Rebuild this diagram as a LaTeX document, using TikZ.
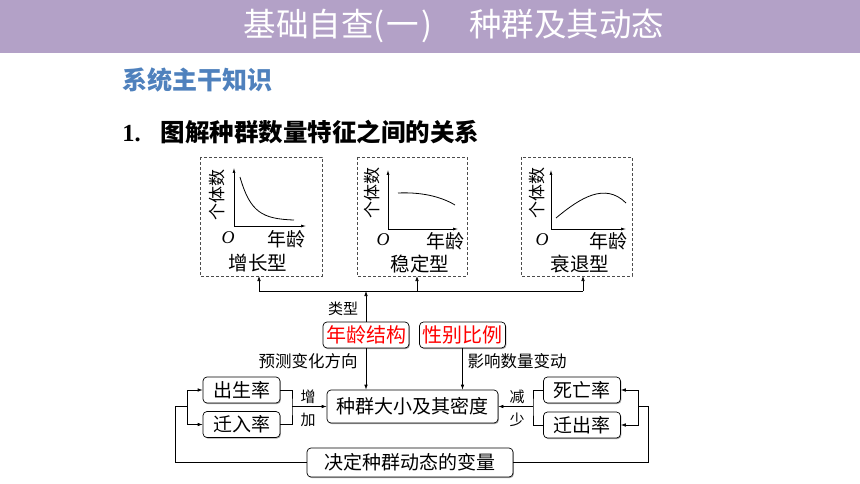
\documentclass[tikz,border=0pt]{standalone}
\usepackage{fontspec}
\setmainfont{Noto Sans CJK SC}
\newfontfamily\serif{Liberation Serif}
\usetikzlibrary{arrows.meta,shadows}
\definecolor{banner}{RGB}{179,161,199}
\definecolor{secblue}{RGB}{79,129,189}
\newcommand{\fs}[1]{\fontsize{#1}{#1}\selectfont}

\begin{document}
\begin{tikzpicture}[x=1pt, y=-1pt, >={Latex[length=5pt,width=3.6pt]}, line width=0.7pt,
  box/.style = {draw, fill=white, rounded corners=4pt, inner sep=0pt,
    minimum width=77pt, minimum height=26pt, font=\fs{19},
    drop shadow={shadow xshift=0.9pt, shadow yshift=-1.1pt, fill=gray!70, opacity=1}},
  keybox/.style = {box, text=red, minimum width=86pt, font=\fs{20}},
  typebox/.style = {draw=black!70, dashed, dash pattern=on 3pt off 2pt},
  lbl/.style = {inner sep=0pt, font=\fs{15}},
  axis/.style = {->, >={Latex[length=5pt,width=3pt]}},
  plot/.style = {line width=0.8pt}]

\useasboundingbox (0,0) rectangle (860,484);
\fill[banner] (0,0) rectangle (860,53);
\node[text=white, font=\fs{32.5}] (title) at (454,26) {基础自查(\kern2pt 一\kern2pt)\hspace{1.15em}种群及其动态};
\node[anchor=west, inner sep=0pt, text=secblue, font=\bfseries\fs{25}] (sec) at (122,80) {系统主干知识};
\node[anchor=west, inner sep=0pt, font=\bfseries\fs{24.5}] (head) at (122,132)
  {{\serif\bfseries 1.}\hspace{20pt}图解种群数量特征之间的关系};

% age pyramid types
\draw[typebox] (200,157) rectangle (322,276);
\draw[typebox] (357,157) rectangle (467,276);
\draw[typebox] (521,157) rectangle (632,276);
\coordinate (grow) at (261,276);
\coordinate (stable) at (412,276);
\coordinate (decline) at (576,276);

\draw[axis] (234,226) -- (234,168);
\draw[axis] (234,226) -- (306,226);
\draw[plot] (240,177) .. controls (250,212) and (262,219) .. (294,220);
\node[rotate=90, inner sep=0pt, font=\fs{17}] (y1) at (217,195) {个体数};
\node[inner sep=0pt, font=\fs{18}\serif\itshape] (o1) at (228,238) {O};
\node[inner sep=0pt, font=\fs{19}] (x1) at (286,239) {年龄};
\node[inner sep=0pt, font=\fs{19.5}] (t1) at (258,263) {增长型};

\draw[axis] (388,229) -- (388,170);
\draw[axis] (388,229) -- (458,229);
\draw[plot] (398,193) .. controls (420,192) and (440,196) .. (455,205);
\node[rotate=90, inner sep=0pt, font=\fs{17}] (y2) at (372,193) {个体数};
\node[inner sep=0pt, font=\fs{18}\serif\itshape] (o2) at (383,240) {O};
\node[inner sep=0pt, font=\fs{19}] (x2) at (445,241) {年龄};
\node[inner sep=0pt, font=\fs{19.5}] (t2) at (420,264) {稳定型};

\draw[axis] (551,229) -- (551,170);
\draw[axis] (551,229) -- (626,229);
\draw[plot] (556,218) .. controls (580,198) and (605,182) .. (626,203);
\node[rotate=90, inner sep=0pt, font=\fs{17}] (y3) at (537,193) {个体数};
\node[inner sep=0pt, font=\fs{18}\serif\itshape] (o3) at (542,240) {O};
\node[inner sep=0pt, font=\fs{19}] (x3) at (608,241) {年龄};
\node[inner sep=0pt, font=\fs{19.5}] (t3) at (580,264) {衰退型};

% characteristics
\node[keybox] (age) at (366,335) {年龄结构};
\node[keybox] (sex) at (462.5,335) {性别比例};
\node[box, minimum width=171pt, minimum height=33pt] (size) at (412.5,406.5) {种群大小及其密度};
\node[box] (birth) at (241.5,390) {出生率};
\node[box] (immi) at (241.5,424.5) {迁入率};
\node[box] (death) at (582,390) {死亡率};
\node[box] (emi) at (582,425) {迁出率};
\node[box, minimum width=206pt, minimum height=29pt] (var) at (410,462.5) {决定种群动态的变量};

\node[lbl] (ltype) at (343,309) {类型};
\node[lbl, font=\fs{16.5}] (lpred) at (308,361) {预测变化方向};
\node[lbl, font=\fs{16.5}] (leff) at (517,361) {影响数量变动};
\node[lbl] (linc1) at (308,397) {增};
\node[lbl] (linc2) at (308,420) {加};
\node[lbl] (ldec1) at (517,397) {减};
\node[lbl] (ldec2) at (517,420) {少};

% connectors
\coordinate (ta) at (259,291);
\coordinate (tb) at (417,291);
\coordinate (tc) at (583,291);
\draw (ta) -- (tc);
\draw[->] (ta) -- (ta |- grow);
\draw[->] (tb) -- (tb |- stable);
\draw[->] (tc) -- (tc |- decline);
\draw[->] (age.north) -- (age.north |- ta);
\draw[->] (age.south) -- (age.south |- size.north);
\draw[->] (sex.south) -- (sex.south |- size.north);

\coordinate (jl) at (292,406.5);
\coordinate (jr) at (533,406.5);
\draw (birth.east) -| (jl) |- (immi.east);
\draw[->] (jl) -- (jl -| size.west);
\draw (death.west) -| (jr) |- (emi.west);
\draw[->] (jr) -- (jr -| size.east);

\coordinate (ol) at (175,406.5);
\coordinate (bl) at (187,406.5);
\coordinate (orr) at (648,406.5);
\coordinate (br) at (638,406.5);
\draw (var.west) -| (ol) -- (bl);
\draw[->] (bl) |- (birth.west);
\draw[->] (bl) |- (immi.west);
\draw (var.east) -| (orr) -- (br);
\draw[->] (br) |- (death.east);
\draw[->] (br) |- (emi.east);

\end{tikzpicture}
\end{document}
